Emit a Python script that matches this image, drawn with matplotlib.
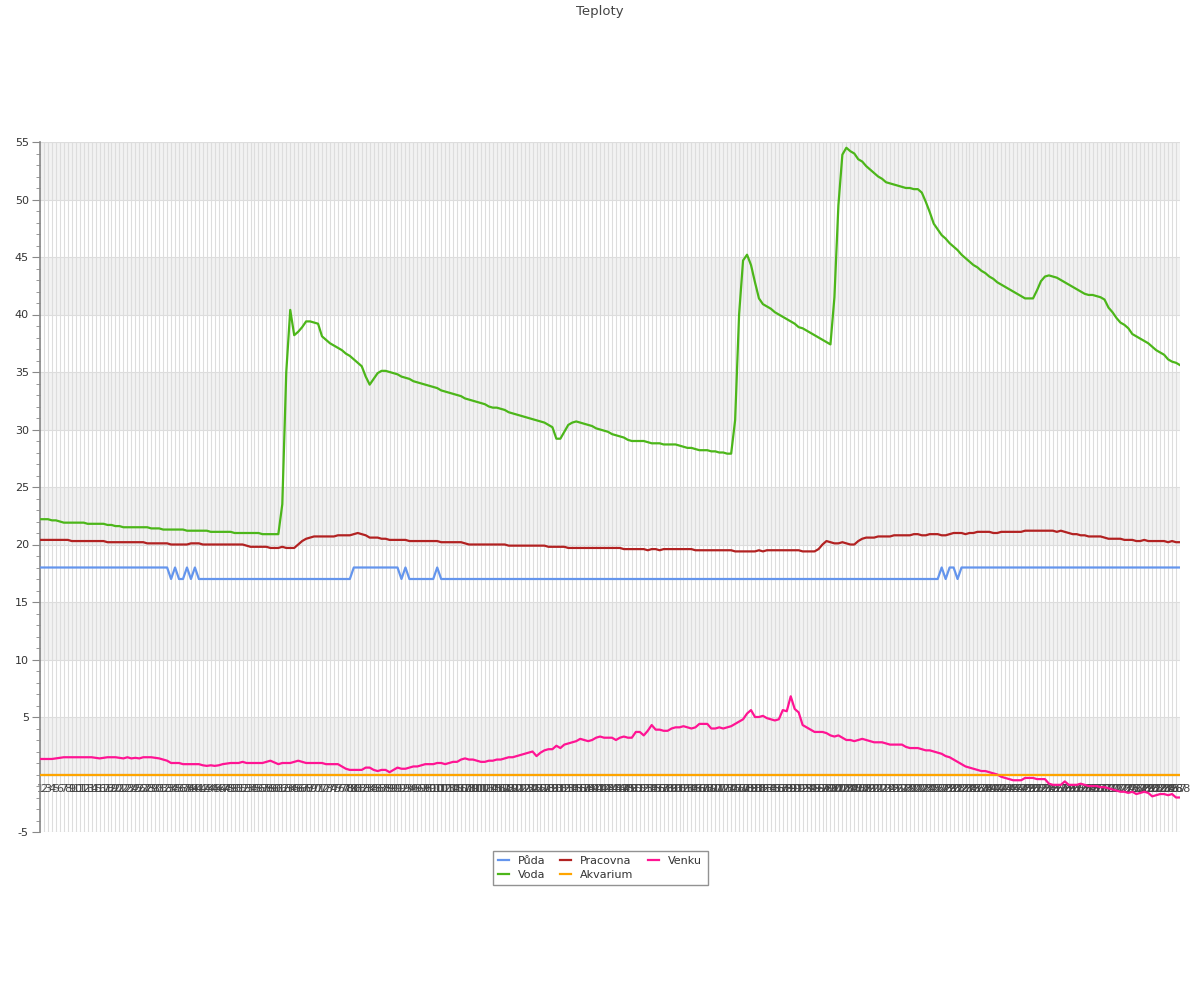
import matplotlib
matplotlib.use("Agg")
import matplotlib.pyplot as plt
from matplotlib.ticker import MultipleLocator

title = "Teploty"
series_names = ["Půda", "Voda", "Pracovna", "Akvarium", "Venku"]
series_colors = ["#6495ED", "#4CB61A", "#B22222", "#FFA500", "#FF1493"]

puda = [
    18, 18, 18, 18, 18, 18, 18, 18, 18, 18, 18, 18, 18, 18, 18, 18, 18, 18, 18, 18, 18, 18, 18, 18,
    18, 18, 18, 18, 18, 18, 18, 18, 18, 17, 18, 17, 17, 18, 17, 18, 17, 17, 17, 17, 17, 17, 17, 17,
    17, 17, 17, 17, 17, 17, 17, 17, 17, 17, 17, 17, 17, 17, 17, 17, 17, 17, 17, 17, 17, 17, 17, 17,
    17, 17, 17, 17, 17, 17, 17, 18, 18, 18, 18, 18, 18, 18, 18, 18, 18, 18, 18, 17, 18, 17, 17, 17,
    17, 17, 17, 17, 18, 17, 17, 17, 17, 17, 17, 17, 17, 17, 17, 17, 17, 17, 17, 17, 17, 17, 17, 17,
    17, 17, 17, 17, 17, 17, 17, 17, 17, 17, 17, 17, 17, 17, 17, 17, 17, 17, 17, 17, 17, 17, 17, 17,
    17, 17, 17, 17, 17, 17, 17, 17, 17, 17, 17, 17, 17, 17, 17, 17, 17, 17, 17, 17, 17, 17, 17, 17,
    17, 17, 17, 17, 17, 17, 17, 17, 17, 17, 17, 17, 17, 17, 17, 17, 17, 17, 17, 17, 17, 17, 17, 17,
    17, 17, 17, 17, 17, 17, 17, 17, 17, 17, 17, 17, 17, 17, 17, 17, 17, 17, 17, 17, 17, 17, 17, 17,
    17, 17, 17, 17, 17, 17, 17, 17, 17, 17, 17, 18, 17, 18, 18, 17, 18, 18, 18, 18, 18, 18, 18, 18,
    18, 18, 18, 18, 18, 18, 18, 18, 18, 18, 18, 18, 18, 18, 18, 18, 18, 18, 18, 18, 18, 18, 18, 18,
    18, 18, 18, 18, 18, 18, 18, 18, 18, 18, 18, 18, 18, 18, 18, 18, 18, 18, 18, 18, 18, 18, 18, 18,
]

voda = [
    22.2, 22.2, 22.2, 22.1, 22.1, 22.0, 21.9, 21.9, 21.9, 21.9, 21.9, 21.9,
    21.8, 21.8, 21.8, 21.8, 21.8, 21.7, 21.7, 21.6, 21.6, 21.5, 21.5, 21.5,
    21.5, 21.5, 21.5, 21.5, 21.4, 21.4, 21.4, 21.3, 21.3, 21.3, 21.3, 21.3,
    21.3, 21.2, 21.2, 21.2, 21.2, 21.2, 21.2, 21.1, 21.1, 21.1, 21.1, 21.1,
    21.1, 21.0, 21.0, 21.0, 21.0, 21.0, 21.0, 21.0, 20.9, 20.9, 20.9, 20.9,
    20.9, 23.5, 35.0, 40.4, 38.2, 38.5, 38.9, 39.4, 39.4, 39.3, 39.2, 38.1,
    37.8, 37.5, 37.3, 37.1, 36.9, 36.6, 36.4, 36.1, 35.8, 35.5, 34.6, 33.9,
    34.4, 34.9, 35.1, 35.1, 35.0, 34.9, 34.8, 34.6, 34.5, 34.4, 34.2, 34.1,
    34.0, 33.9, 33.8, 33.7, 33.6, 33.4, 33.3, 33.2, 33.1, 33.0, 32.9, 32.7,
    32.6, 32.5, 32.4, 32.3, 32.2, 32.0, 31.9, 31.9, 31.8, 31.7, 31.5, 31.4,
    31.3, 31.2, 31.1, 31.0, 30.9, 30.8, 30.7, 30.6, 30.4, 30.2, 29.2, 29.2,
    29.8, 30.4, 30.6, 30.7, 30.6, 30.5, 30.4, 30.3, 30.1, 30.0, 29.9, 29.8,
    29.6, 29.5, 29.4, 29.3, 29.1, 29.0, 29.0, 29.0, 29.0, 28.9, 28.8, 28.8,
    28.8, 28.7, 28.7, 28.7, 28.7, 28.6, 28.5, 28.4, 28.4, 28.3, 28.2, 28.2,
    28.2, 28.1, 28.1, 28.0, 28.0, 27.9, 27.9, 30.8, 40.0, 44.7, 45.2, 44.3,
    42.8, 41.4, 40.9, 40.7, 40.5, 40.2, 40.0, 39.8, 39.6, 39.4, 39.2, 38.9,
    38.8, 38.6, 38.4, 38.2, 38.0, 37.8, 37.6, 37.4, 41.5, 49.5, 53.9, 54.5,
    54.2, 54.0, 53.5, 53.3, 52.9, 52.6, 52.3, 52.0, 51.8, 51.5, 51.4, 51.3,
    51.2, 51.1, 51.0, 51.0, 50.9, 50.9, 50.6, 49.8, 48.9, 47.9, 47.4, 46.9,
    46.6, 46.2, 45.9, 45.6, 45.2, 44.9, 44.6, 44.3, 44.1, 43.8, 43.6, 43.3,
    43.1, 42.8, 42.6, 42.4, 42.2, 42.0, 41.8, 41.6, 41.4, 41.4, 41.4, 42.1,
    42.9, 43.3, 43.4, 43.3, 43.2, 43.0, 42.8, 42.6, 42.4, 42.2, 42.0, 41.8,
    41.7, 41.7, 41.6, 41.5, 41.3, 40.6, 40.2, 39.7, 39.3, 39.1, 38.8, 38.3,
    38.1, 37.9, 37.7, 37.5, 37.2, 36.9, 36.7, 36.5, 36.1, 35.9, 35.8, 35.6,
]

pracovna = [
    20.4, 20.4, 20.4, 20.4, 20.4, 20.4, 20.4, 20.4, 20.3, 20.3, 20.3, 20.3,
    20.3, 20.3, 20.3, 20.3, 20.3, 20.2, 20.2, 20.2, 20.2, 20.2, 20.2, 20.2,
    20.2, 20.2, 20.2, 20.1, 20.1, 20.1, 20.1, 20.1, 20.1, 20.0, 20.0, 20.0,
    20.0, 20.0, 20.1, 20.1, 20.1, 20.0, 20.0, 20.0, 20.0, 20.0, 20.0, 20.0,
    20.0, 20.0, 20.0, 20.0, 19.9, 19.8, 19.8, 19.8, 19.8, 19.8, 19.7, 19.7,
    19.7, 19.8, 19.7, 19.7, 19.7, 20.0, 20.3, 20.5, 20.6, 20.7, 20.7, 20.7,
    20.7, 20.7, 20.7, 20.8, 20.8, 20.8, 20.8, 20.9, 21.0, 20.9, 20.8, 20.6,
    20.6, 20.6, 20.5, 20.5, 20.4, 20.4, 20.4, 20.4, 20.4, 20.3, 20.3, 20.3,
    20.3, 20.3, 20.3, 20.3, 20.3, 20.2, 20.2, 20.2, 20.2, 20.2, 20.2, 20.1,
    20.0, 20.0, 20.0, 20.0, 20.0, 20.0, 20.0, 20.0, 20.0, 20.0, 19.9, 19.9,
    19.9, 19.9, 19.9, 19.9, 19.9, 19.9, 19.9, 19.9, 19.8, 19.8, 19.8, 19.8,
    19.8, 19.7, 19.7, 19.7, 19.7, 19.7, 19.7, 19.7, 19.7, 19.7, 19.7, 19.7,
    19.7, 19.7, 19.7, 19.6, 19.6, 19.6, 19.6, 19.6, 19.6, 19.5, 19.6, 19.6,
    19.5, 19.6, 19.6, 19.6, 19.6, 19.6, 19.6, 19.6, 19.6, 19.5, 19.5, 19.5,
    19.5, 19.5, 19.5, 19.5, 19.5, 19.5, 19.5, 19.4, 19.4, 19.4, 19.4, 19.4,
    19.4, 19.5, 19.4, 19.5, 19.5, 19.5, 19.5, 19.5, 19.5, 19.5, 19.5, 19.5,
    19.4, 19.4, 19.4, 19.4, 19.6, 20.0, 20.3, 20.2, 20.1, 20.1, 20.2, 20.1,
    20.0, 20.0, 20.3, 20.5, 20.6, 20.6, 20.6, 20.7, 20.7, 20.7, 20.7, 20.8,
    20.8, 20.8, 20.8, 20.8, 20.9, 20.9, 20.8, 20.8, 20.9, 20.9, 20.9, 20.8,
    20.8, 20.9, 21.0, 21.0, 21.0, 20.9, 21.0, 21.0, 21.1, 21.1, 21.1, 21.1,
    21.0, 21.0, 21.1, 21.1, 21.1, 21.1, 21.1, 21.1, 21.2, 21.2, 21.2, 21.2,
    21.2, 21.2, 21.2, 21.2, 21.1, 21.2, 21.1, 21.0, 20.9, 20.9, 20.8, 20.8,
    20.7, 20.7, 20.7, 20.7, 20.6, 20.5, 20.5, 20.5, 20.5, 20.4, 20.4, 20.4,
    20.3, 20.3, 20.4, 20.3, 20.3, 20.3, 20.3, 20.3, 20.2, 20.3, 20.2, 20.2,
]

akvarium = [
    0, 0, 0, 0, 0, 0, 0, 0, 0, 0, 0, 0, 0, 0, 0, 0, 0, 0, 0, 0, 0, 0, 0, 0,
    0, 0, 0, 0, 0, 0, 0, 0, 0, 0, 0, 0, 0, 0, 0, 0, 0, 0, 0, 0, 0, 0, 0, 0,
    0, 0, 0, 0, 0, 0, 0, 0, 0, 0, 0, 0, 0, 0, 0, 0, 0, 0, 0, 0, 0, 0, 0, 0,
    0, 0, 0, 0, 0, 0, 0, 0, 0, 0, 0, 0, 0, 0, 0, 0, 0, 0, 0, 0, 0, 0, 0, 0,
    0, 0, 0, 0, 0, 0, 0, 0, 0, 0, 0, 0, 0, 0, 0, 0, 0, 0, 0, 0, 0, 0, 0, 0,
    0, 0, 0, 0, 0, 0, 0, 0, 0, 0, 0, 0, 0, 0, 0, 0, 0, 0, 0, 0, 0, 0, 0, 0,
    0, 0, 0, 0, 0, 0, 0, 0, 0, 0, 0, 0, 0, 0, 0, 0, 0, 0, 0, 0, 0, 0, 0, 0,
    0, 0, 0, 0, 0, 0, 0, 0, 0, 0, 0, 0, 0, 0, 0, 0, 0, 0, 0, 0, 0, 0, 0, 0,
    0, 0, 0, 0, 0, 0, 0, 0, 0, 0, 0, 0, 0, 0, 0, 0, 0, 0, 0, 0, 0, 0, 0, 0,
    0, 0, 0, 0, 0, 0, 0, 0, 0, 0, 0, 0, 0, 0, 0, 0, 0, 0, 0, 0, 0, 0, 0, 0,
    0, 0, 0, 0, 0, 0, 0, 0, 0, 0, 0, 0, 0, 0, 0, 0, 0, 0, 0, 0, 0, 0, 0, 0,
    0, 0, 0, 0, 0, 0, 0, 0, 0, 0, 0, 0, 0, 0, 0, 0, 0, 0, 0, 0, 0, 0, 0, 0,
]

venku = [
    1.35, 1.35, 1.35, 1.35, 1.4, 1.45, 1.5, 1.5, 1.5, 1.5, 1.5, 1.5,
    1.5, 1.5, 1.45, 1.4, 1.45, 1.5, 1.5, 1.5, 1.45, 1.4, 1.5, 1.4,
    1.45, 1.4, 1.5, 1.5, 1.5, 1.45, 1.4, 1.3, 1.2, 1.0, 1.0, 1.0,
    0.9, 0.9, 0.9, 0.9, 0.9, 0.8, 0.75, 0.8, 0.75, 0.8, 0.9, 0.95,
    1.0, 1.0, 1.0, 1.1, 1.0, 1.0, 1.0, 1.0, 1.0, 1.1, 1.2, 1.05,
    0.9, 1.0, 1.0, 1.0, 1.1, 1.2, 1.1, 1.0, 1.0, 1.0, 1.0, 1.0,
    0.9, 0.9, 0.9, 0.9, 0.7, 0.5, 0.4, 0.4, 0.4, 0.4, 0.6, 0.6,
    0.4, 0.3, 0.4, 0.4, 0.2, 0.4, 0.6, 0.5, 0.5, 0.6, 0.7, 0.7,
    0.8, 0.9, 0.9, 0.9, 1.0, 1.0, 0.9, 1.0, 1.1, 1.1, 1.3, 1.4,
    1.3, 1.3, 1.2, 1.1, 1.1, 1.2, 1.2, 1.3, 1.3, 1.4, 1.5, 1.5,
    1.6, 1.7, 1.8, 1.9, 2.0, 1.6, 1.9, 2.1, 2.2, 2.2, 2.5, 2.3,
    2.6, 2.7, 2.8, 2.9, 3.1, 3.0, 2.9, 3.0, 3.2, 3.3, 3.2, 3.2,
    3.2, 3.0, 3.2, 3.3, 3.2, 3.2, 3.7, 3.7, 3.4, 3.8, 4.3, 3.9,
    3.9, 3.8, 3.8, 4.0, 4.1, 4.1, 4.2, 4.1, 4.0, 4.1, 4.4, 4.4,
    4.4, 4.0, 4.0, 4.1, 4.0, 4.1, 4.2, 4.4, 4.6, 4.8, 5.3, 5.6,
    5.0, 5.0, 5.1, 4.9, 4.8, 4.7, 4.8, 5.6, 5.5, 6.8, 5.7, 5.4,
    4.3, 4.1, 3.9, 3.7, 3.7, 3.7, 3.6, 3.4, 3.3, 3.4, 3.2, 3.0,
    3.0, 2.9, 3.0, 3.1, 3.0, 2.9, 2.8, 2.8, 2.8, 2.7, 2.6, 2.6,
    2.6, 2.6, 2.4, 2.3, 2.3, 2.3, 2.2, 2.1, 2.1, 2.0, 1.9, 1.8,
    1.6, 1.5, 1.3, 1.1, 0.9, 0.7, 0.6, 0.5, 0.4, 0.3, 0.3, 0.2,
    0.1, 0.0, -0.2, -0.3, -0.4, -0.5, -0.5, -0.5, -0.3, -0.3, -0.3, -0.4,
    -0.4, -0.4, -0.8, -0.9, -0.9, -0.9, -0.6, -0.9, -0.9, -0.9, -0.8, -0.9,
    -1.0, -1.0, -1.0, -1.1, -1.1, -1.2, -1.3, -1.4, -1.5, -1.5, -1.6, -1.5,
    -1.7, -1.6, -1.5, -1.6, -1.9, -1.8, -1.7, -1.7, -1.8, -1.7, -2.0, -2.0,
]

y_min, y_max = -5, 55
y_ticks = [55, 50, 45, 40, 35, 30, 25, 20, 15, 10, 5, -5]

n = len(voda)
x_labels = [str(i + 1) for i in range(n)]
xs = list(range(n))

fig = plt.figure(figsize=(12, 10), dpi=100)
ax = fig.add_axes([40 / 1200, 1 - 832 / 1000, 1140 / 1200, 690 / 1000])

# alternating bands
for lo in range(0, 55, 10):
    ax.axhspan(lo, lo + 5, color="#f2f2f2", zorder=0, lw=0)

ax.set_xlim(0, n - 1)
ax.set_ylim(y_min, y_max)

# vertical grid at every category
for x in xs:
    ax.axvline(x, color="#dddddd", lw=0.8, zorder=0.5)
for yv in range(-5, 56, 5):
    ax.axhline(yv, color="#dddddd", lw=0.8, zorder=0.6)

data = [puda, voda, pracovna, akvarium, venku]
for name, col, vals in zip(series_names, series_colors, data):
    ax.plot(xs, vals, color=col, lw=1.6, label=name, zorder=3)

# zero axis line
ax.axhline(0, color="#888888", lw=1.5, zorder=2)
ax.plot(xs, akvarium, color=series_colors[3], lw=1.2, zorder=3.1)

# y axis
ax.set_yticks(y_ticks)
ax.set_yticklabels([str(t) for t in y_ticks])
ax.yaxis.set_minor_locator(MultipleLocator(1))
ax.tick_params(axis="y", which="major", length=6, color="#888888", labelsize=8,
               labelcolor="#333333", pad=2)
ax.tick_params(axis="y", which="minor", length=3, color="#888888")
for s in ["top", "right", "bottom"]:
    ax.spines[s].set_visible(False)
ax.spines["left"].set_color("#888888")
ax.spines["left"].set_linewidth(1.2)

# x labels at y = 0
ax.set_xticks([])
for x, lab in zip(xs, x_labels):
    ax.text(x, -1.25, lab, ha="center", va="center", fontsize=8, color="#444444", zorder=2.5)

fig.text(0.5, 1 - 11 / 1000, title, ha="center", va="center", fontsize=9.5, color="#444444")

leg = ax.legend(loc="center", bbox_to_anchor=(600 / 1200, 1 - 868 / 1000),
                bbox_transform=fig.transFigure, ncol=3, fontsize=8, frameon=True,
                fancybox=False, handlelength=1.0, handletextpad=0.8, columnspacing=1.3,
                borderpad=0.5, labelspacing=0.3)
leg.get_frame().set_edgecolor("#777777")
leg.get_frame().set_linewidth(1.0)
for t in leg.get_texts():
    t.set_color("#333333")

fig.savefig("out.png", dpi=100)
